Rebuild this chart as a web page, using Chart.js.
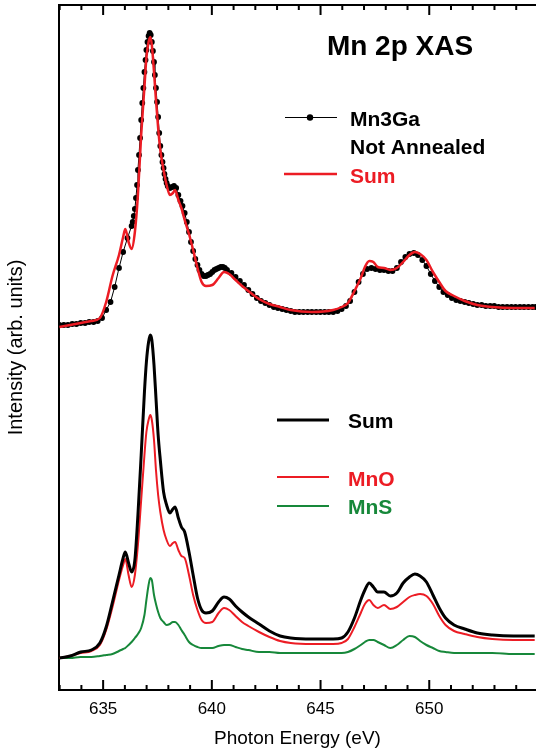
<!DOCTYPE html>
<html><head><meta charset="utf-8">
<script src="https://cdn.jsdelivr.net/npm/chart.js@4.4.1/dist/chart.umd.min.js"></script>
<style>html,body{margin:0;padding:0;background:#fff;}canvas{display:block;}</style>
</head><body>
<canvas id="c" width="536" height="753"></canvas>
<script>
// ---- Data (photon energy in eV, intensity in arbitrary units) ----
const energyDots = [632.99,633.19,633.38,633.58,633.77,633.97,634.17,634.36,634.56,634.75,634.95,635.14,635.34,635.53,635.73,635.92,636.12,636.31,
  636.36,636.41,636.46,636.51,636.56,636.60,636.65,636.70,636.75,636.80,636.85,636.90,636.95,636.99,637.04,637.09,637.14,637.19,637.24,637.29,637.34,637.38,637.43,637.48,637.53,637.58,637.63,637.68,637.73,637.78,637.82,637.87,637.92,637.97,
  638.07,638.17,638.26,638.36,638.46,638.56,638.65,638.75,638.85,638.95,639.04,639.14,639.24,639.34,639.43,639.53,639.63,639.73,639.82,639.92,640.02,640.12,640.21,640.31,640.41,640.51,640.60,640.70,
  640.90,641.09,641.29,641.48,641.68,641.87,642.07,642.26,642.46,642.65,642.85,643.04,643.24,643.43,643.63,643.82,644.02,644.21,644.41,644.60,
  644.80,644.99,645.19,645.38,645.58,645.78,645.97,646.17,646.36,646.56,646.75,646.95,647.14,647.34,647.53,647.73,647.92,648.12,648.31,648.51,
  648.70,648.90,649.09,649.29,649.48,649.68,649.87,650.07,650.26,650.46,650.65,650.85,651.04,651.24,651.43,651.63,651.82,652.02,652.21,652.41,
  652.60,652.80,652.99,653.19,653.38,653.58,653.78,653.97,654.17,654.36,654.56,654.75,654.90];
const mn3ga = [365,365,365,366,366,367,367,368,368,369,372,380,388,403,422,438,452,464,
  468,474,481,492,505,520,535,552,570,587,602,618,630,640,648,654,657,655,648,639,628,615,602,588,573,557,544,535,528,522,516,511,507,504,
  502,503,504,502,495,489,484,477,468,458,448,439,431,425,420,416,414,414,415,416,418,420,421,422,423,423,422,420,
  417,413,409,405,400,396,392,389,387,385,383,382,381,380,379,378,378,378,378,378,
  378,378,378,378,378,379,381,384,389,398,408,416,421,422,421,420,420,419,419,422,
  428,433,436,437,435,430,424,416,409,403,398,395,392,390,389,388,387,386,385,385,
  384,384,384,383,383,383,383,383,383,383,383,383,383];

const energy = [632.99,633.48,633.97,634.46,634.85,635.14,635.43,635.73,635.92,636.02,636.17,636.31,636.46,636.60,636.75,636.90,636.99,637.09,637.17,637.24,
  637.34,637.43,637.53,637.63,637.78,637.92,638.07,638.21,638.31,638.46,638.60,638.75,638.95,639.14,639.34,639.53,639.73,640.02,640.31,640.56,
  640.80,641.09,641.39,641.68,642.17,642.65,643.14,643.63,644.60,645.58,645.97,646.26,646.56,646.85,647.04,647.24,647.43,647.63,647.92,648.21,
  648.51,648.80,649.09,649.34,649.58,649.87,650.17,650.46,650.75,651.14,651.63,652.21,652.90,653.87,654.85];
const sumTop = [363,365,367,369,372,388,414,435,453,461,448,441,458,495,555,603,632,648,653,645,
  618,590,562,540,520,505,495,497,500,490,482,470,456,440,422,408,404,405,412,418,
  416,410,404,399,391,386,383,380,378,380,383,387,399,412,423,429,428,423,422,420,
  422,428,435,438,436,430,418,408,399,394,389,385,383,382,382];
const sumBottom = [32,34,38,40,47,63,88,115,132,138,127,118,130,175,235,298,328,348,355,350,
  325,292,255,230,198,185,177,181,183,172,163,158,138,115,92,80,77,79,88,93,
  91,84,78,73,66,59,54,52,51,51,52,58,72,90,100,107,103,98,98,94,
  97,107,113,116,114,108,95,82,72,65,61,57,55,54,54];
const mno = [32,34,37,39,45,60,83,110,125,131,115,103,115,145,190,235,258,270,275,270,
  250,220,195,178,160,150,144,147,148,140,134,132,115,95,80,70,67,68,77,82,
  80,74,68,64,58,53,49,47,46,46,47,51,63,77,86,90,85,82,85,81,
  83,88,93,95,96,94,86,74,65,59,56,53,51,50,50];
const mns = [32,32,33,33,34,35,36,39,41,42,45,48,52,56,62,75,90,105,112,110,
  95,86,78,72,68,65,66,68,68,65,60,55,48,45,43,42,42,42,44,45,
  45,43,41,40,38,38,37,37,37,37,37,38,41,45,48,50,50,48,45,42,
  45,50,54,53,49,45,42,39,38,37,37,37,37,36,36];

const xTicks = [635, 640, 645, 650];
const xMin = 632.97, xMax = 654.91;
const yMin = 0, yMax = 685;

const RED = '#ec1c24', GREEN = '#17883a', BLACK = '#000000';
const FONT = '"Liberation Sans", Arial, Helvetica, sans-serif';

function xy(xs, ys) { return xs.map((x, i) => ({ x: x, y: ys[i] })); }

const decorations = {
  id: 'decorations',
  afterDraw(chart) {
    const c = chart.ctx, a = chart.chartArea, xs = chart.scales.x;
    c.save();
    c.strokeStyle = '#000';
    // top frame line
    c.lineWidth = 2;
    c.beginPath(); c.moveTo(a.left - 1, a.top); c.lineTo(a.right, a.top); c.stroke();
    // inward tick marks, top and bottom
    c.lineWidth = 2;
    for (let e = Math.ceil(xMin); e <= xMax; e++) {
      const px = xs.getPixelForValue(e);
      const len = (e % 5 === 0) ? 10 : 5;
      c.beginPath();
      c.moveTo(px, a.bottom); c.lineTo(px, a.bottom - len);
      c.moveTo(px, a.top); c.lineTo(px, a.top + len);
      c.stroke();
    }
    // title
    c.fillStyle = '#000';
    c.textAlign = 'center'; c.textBaseline = 'alphabetic';
    c.font = 'bold 28px ' + FONT;
    c.fillText('Mn 2p XAS', 400, 55);

    // upper legend
    c.textAlign = 'left';
    c.font = 'bold 21px ' + FONT;
    c.lineWidth = 1; c.strokeStyle = '#000';
    c.beginPath(); c.moveTo(285, 117.5); c.lineTo(337, 117.5); c.stroke();
    c.beginPath(); c.arc(310, 117.5, 3.2, 0, Math.PI * 2); c.fill();
    c.fillText('Mn3Ga', 350, 126);
    c.fillText('Not Annealed', 350, 154);
    c.strokeStyle = RED; c.lineWidth = 2.5;
    c.beginPath(); c.moveTo(284, 174); c.lineTo(337, 174); c.stroke();
    c.fillStyle = RED; c.fillText('Sum', 350, 183);

    // lower legend
    c.strokeStyle = '#000'; c.lineWidth = 3;
    c.beginPath(); c.moveTo(277, 420); c.lineTo(329, 420); c.stroke();
    c.fillStyle = '#000'; c.fillText('Sum', 348, 428);
    c.strokeStyle = RED; c.lineWidth = 2;
    c.beginPath(); c.moveTo(277, 477); c.lineTo(329, 477); c.stroke();
    c.fillStyle = RED; c.fillText('MnO', 348, 486);
    c.strokeStyle = GREEN; c.lineWidth = 2;
    c.beginPath(); c.moveTo(277, 506); c.lineTo(329, 506); c.stroke();
    c.fillStyle = GREEN; c.fillText('MnS', 348, 514);
    c.restore();
  }
};

new Chart(document.getElementById('c'), {
  type: 'line',
  data: {
    datasets: [
      { label: 'Sum', data: xy(energy, sumTop), borderColor: RED, borderWidth: 2.5, pointRadius: 0, cubicInterpolationMode: 'monotone' },
      { label: 'Mn3Ga Not Annealed', data: xy(energyDots, mn3ga), borderColor: BLACK, borderWidth: 1,
        pointRadius: 2.9, pointBorderWidth: 0, pointBackgroundColor: BLACK, backgroundColor: BLACK },
      { label: 'Sum (MnO + MnS)', data: xy(energy, sumBottom), borderColor: BLACK, borderWidth: 3, pointRadius: 0, cubicInterpolationMode: 'monotone' },
      { label: 'MnO', data: xy(energy, mno), borderColor: RED, borderWidth: 2, pointRadius: 0, cubicInterpolationMode: 'monotone' },
      { label: 'MnS', data: xy(energy, mns), borderColor: GREEN, borderWidth: 2, pointRadius: 0, cubicInterpolationMode: 'monotone' }
    ]
  },
  options: {
    responsive: false,
    animation: false,
    devicePixelRatio: 1,
    layout: { autoPadding: false, padding: { top: 5, right: 0, bottom: 0, left: 0 } },
    plugins: { legend: { display: false }, tooltip: { enabled: false } },
    scales: {
      x: {
        type: 'linear', position: 'bottom', min: xMin, max: xMax,
        afterBuildTicks: s => { s.ticks = xTicks.map(v => ({ value: v })); },
        afterFit: s => { s.height = 63; s.paddingLeft = 0; s.paddingRight = 0; },
        grid: { display: false, drawTicks: false },
        border: { display: true, color: '#000', width: 2 },
        ticks: { color: '#000', font: { family: FONT, size: 17 }, padding: 9, maxRotation: 0 },
        title: { display: true, text: 'Photon Energy (eV)', color: '#000', font: { family: FONT, size: 19 }, padding: { top: 3, bottom: 3 } }
      },
      y: {
        type: 'linear', position: 'left', min: yMin, max: yMax,
        afterFit: s => { s.width = 59; s.paddingTop = 0; s.paddingBottom = 0; },
        grid: { display: false, drawTicks: false },
        border: { display: true, color: '#000', width: 2 },
        ticks: { display: false },
        title: { display: true, text: 'Intensity (arb. units)', color: '#000', font: { family: FONT, size: 20 }, padding: { top: 4, bottom: 4 } }
      }
    }
  },
  plugins: [decorations]
});
</script>
</body></html>
